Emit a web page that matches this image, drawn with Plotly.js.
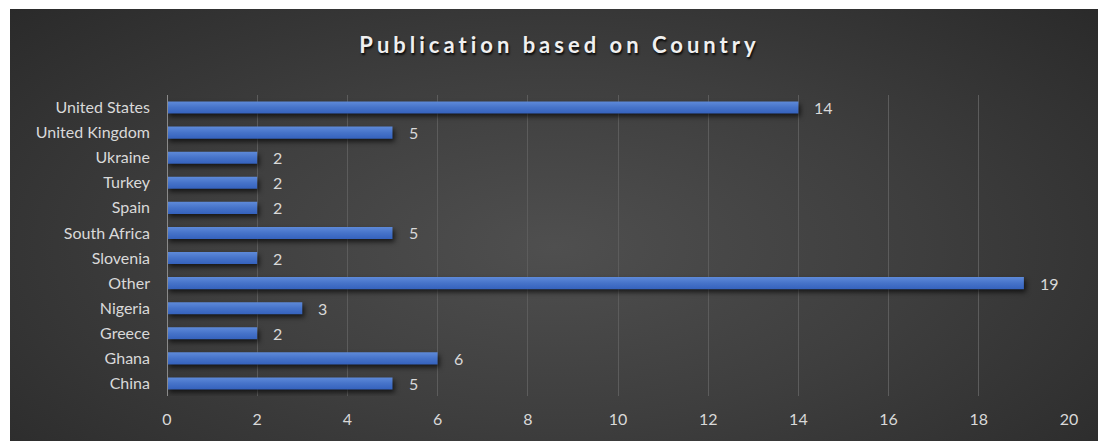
<!DOCTYPE html>
<html>
<head>
<meta charset="utf-8">
<script src="https://cdn.plot.ly/plotly-3.0.1.min.js"></script>
<style>
  html, body { margin: 0; padding: 0; background: #ffffff; }
  #frame {
    position: absolute; left: 10px; top: 9px; width: 1088px; height: 432px;
    background: radial-gradient(ellipse 75% 90% at 50% 55%, #4f4f4f 0%, #3e3e3e 45%, #262626 100%);
  }
  #chart { width: 1088px; height: 432px; }
  #chart .gtitle { letter-spacing: 4px; }
  #chart .barlayer .point path {
    fill: url(#barShade) !important;
    filter: drop-shadow(2px 3px 2.5px rgba(0,0,0,0.65));
  }
</style>
</head>
<body>
<svg width="0" height="0" style="position:absolute">
  <defs>
    <linearGradient id="barShade" x1="0" y1="0" x2="0" y2="1">
      <stop offset="0%" stop-color="#5e8ad9"/>
      <stop offset="50%" stop-color="#4673c9"/>
      <stop offset="100%" stop-color="#3562bd"/>
    </linearGradient>
  </defs>
</svg>
<div id="frame"><div id="chart"></div></div>
<script>
// Publications per country (bottom to top on the category axis)
const countries = ["China", "Ghana", "Greece", "Nigeria", "Other", "Slovenia",
                   "South Africa", "Spain", "Turkey", "Ukraine", "United Kingdom", "United States"];
const publications = [5, 6, 2, 3, 19, 2, 5, 2, 2, 2, 5, 14];
const xTicks = [0, 2, 4, 6, 8, 10, 12, 14, 16, 18, 20];

const labelFont = { family: "Lato, 'Open Sans', sans-serif", size: 16, color: "#d9d9d9" };

const trace = {
  type: "bar",
  orientation: "h",
  x: publications,
  y: countries,
  width: 0.48,
  marker: { color: "#4472c4", line: { width: 0 } },
  hoverinfo: "x+y"
};

// value labels placed just past each bar's end
const valueLabels = countries.map((c, i) => ({
  x: publications[i], y: c, xref: "x", yref: "y",
  text: String(publications[i]), showarrow: false,
  xanchor: "left", yanchor: "middle", xshift: 14,
  font: labelFont
}));

const layout = {
  width: 1088, height: 432,
  paper_bgcolor: "rgba(0,0,0,0)",
  plot_bgcolor: "rgba(0,0,0,0)",
  margin: { l: 157, r: 29, t: 86, b: 45 },
  title: {
    text: "Publication based on Country",
    x: 0.505, xanchor: "center", y: 0.915, yanchor: "middle",
    font: { family: "Lato, 'Open Sans', sans-serif", size: 22, weight: "bold", color: "#f0f0f0",
            shadow: "1px 2px 2px rgba(0,0,0,0.85)" }
  },
  xaxis: {
    range: [0, 20],
    tickvals: xTicks,
    ticktext: xTicks.map(String),
    showgrid: true, gridcolor: "#5c5c5c", gridwidth: 1,
    zeroline: false, showline: false,
    ticks: "", ticklabelstandoff: 12,
    tickfont: labelFont, fixedrange: true
  },
  yaxis: {
    type: "category",
    categoryorder: "array", categoryarray: countries,
    showgrid: false, zeroline: false,
    showline: false,
    ticks: "", ticklabelstandoff: 16,
    tickfont: labelFont, fixedrange: true
  },
  shapes: [{
    type: "line", xref: "x", yref: "paper",
    x0: 0, x1: 0, y0: 0, y1: 1,
    line: { color: "#8a8a8a", width: 2 }
  }],
  annotations: valueLabels,
  showlegend: false
};

Plotly.newPlot("chart", [trace], layout, { displayModeBar: false, staticPlot: true });
</script>
</body>
</html>
